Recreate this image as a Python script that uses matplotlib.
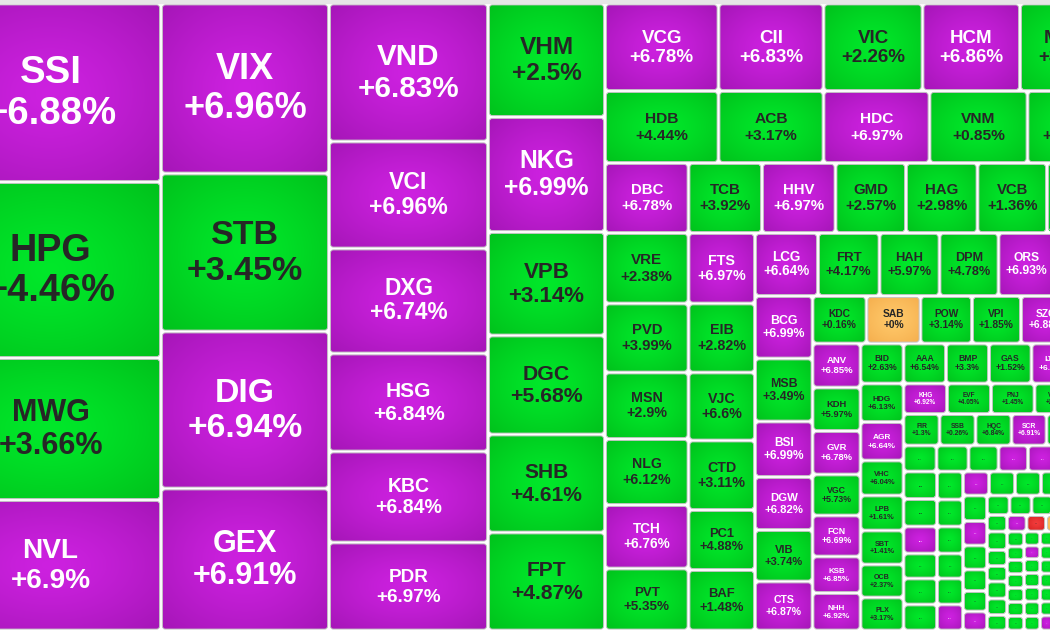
import numpy as np
import matplotlib
matplotlib.use("Agg")
import matplotlib.pyplot as plt
from matplotlib.patches import FancyBboxPatch

plt.rcParams['font.family'] = ['Liberation Sans', 'DejaVu Sans']

# ---------------- data ----------------
# layout strips of the squarified treemap (orientation + number of cells)
strip_dirs = ['col', 'col', 'col', 'col', 'row', 'row', 'row', 'col', 'col', 'row',
              'col', 'row', 'col', 'col', 'row', 'row', 'row', 'row', 'col', 'col',
              'row', 'col', 'row', 'row', 'col', 'col', 'col', 'col']
strip_counts = [4, 4, 6, 6, 5, 5, 7, 6, 6, 6, 6, 6, 7, 8, 5, 5, 6, 7, 6, 6, 6, 6, 6, 7, 6, 7, 7, 7]

D = '...'
tickers = (['SSI', 'HPG', 'MWG', 'NVL'] +
           ['VIX', 'STB', 'DIG', 'GEX'] +
           ['VND', 'VCI', 'DXG', 'HSG', 'KBC', 'PDR'] +
           ['VHM', 'NKG', 'VPB', 'DGC', 'SHB', 'FPT'] +
           ['VCG', 'CII', 'VIC', 'HCM', 'MBB'] +
           ['HDB', 'ACB', 'HDC', 'VNM', 'TPB'] +
           ['DBC', 'TCB', 'HHV', 'GMD', 'HAG', 'VCB', 'CTG'] +
           ['VRE', 'PVD', 'MSN', 'NLG', 'TCH', 'PVT'] +
           ['FTS', 'EIB', 'VJC', 'CTD', 'PC1', 'BAF'] +
           ['LCG', 'FRT', 'HAH', 'DPM', 'ORS', 'DCM'] +
           ['BCG', 'MSB', 'BSI', 'DGW', 'VIB', 'CTS'] +
           ['KDC', 'SAB', 'POW', 'VPI', 'SZC', 'PHR'] +
           ['ANV', 'KDH', 'GVR', 'VGC', 'FCN', 'KSB', 'NHH'] +
           ['BID', 'HDG', 'AGR', 'VHC', 'LPB', 'SBT', 'OCB', 'PLX'] +
           ['AAA', 'BMP', 'GAS', 'IJC', 'DXS'] +
           ['KHG', 'EVF', 'PNJ', 'VSC', 'DPG'] +
           ['FIR', 'SSB', 'HQC', 'SCR', 'CSV', 'HT1'] +
           [D] * 7 + [D] * 6 + [D] * 6 + [D] * 6 + [D] * 6 + [D] * 6 +
           [D] * 7 + [D] * 6 + [D] * 7 + [D] * 7 + [D] * 7)

N = None
changes = ([6.88, 4.46, 3.66, 6.9] +
           [6.96, 3.45, 6.94, 6.91] +
           [6.83, 6.96, 6.74, 6.84, 6.84, 6.97] +
           [2.5, 6.99, 3.14, 5.68, 4.61, 4.87] +
           [6.78, 6.83, 2.26, 6.86, 3.2] +
           [4.44, 3.17, 6.97, 0.85, 1.89] +
           [6.78, 3.92, 6.97, 2.57, 2.98, 1.36, 2.4] +
           [2.38, 3.99, 2.9, 6.12, 6.76, 5.35] +
           [6.97, 2.82, 6.6, 3.11, 4.88, 1.48] +
           [6.64, 4.17, 5.97, 4.78, 6.93, 3.5] +
           [6.99, 3.49, 6.99, 6.82, 3.74, 6.87] +
           [0.16, 0, 3.14, 1.85, 6.88, 2.1] +
           [6.85, 5.97, 6.78, 5.73, 6.69, 6.85, 6.92] +
           [2.63, 6.13, 6.64, 6.04, 1.61, 1.41, 2.37, 3.17] +
           [6.54, 3.3, 1.52, 6.9, 4.1] +
           [6.92, 4.05, 1.45, 2.2, 3.0] +
           [1.3, 0.26, 6.84, 6.91, 1.9, 1.2] +
           [N] * 7 + [N] * 6 + [N] * 6 + [N] * 6 + [N] * 6 + [N] * 6 +
           [N] * 7 + [N] * 6 + [N] * 7 + [N] * 7 + [N] * 7)

# C = ceiling, U = up, R = reference, F = down
status = ('CUUC' + 'CUCC' + 'CCCCCC' + 'UCUUUU' + 'CCUCU' + 'UUCUU' + 'CUCUUUU' +
          'UUUUCU' + 'CUUUUU' + 'CUUUCU' + 'CUCCUC' + 'URUUCU' + 'CUCUCCC' +
          'UUCUUUUU' + 'UUUCU' + 'CUUUU' + 'UUUCUU' +
          'UUUCCUU' + 'UUCUUU' + 'UUUUUC' + 'CUUUUU' + 'UCUUUC' + 'UUUUUU' +
          'UCFRUUU' + 'UUUUUU' + 'UUUUUUU' + 'UCUUUUU' + 'UUUUUUC')

sizes = ([39449, 38896, 31382, 28841] +
         [28560, 26544, 26376, 23856] +
         [21942, 17013, 16695, 15582, 14469, 13992] +
         [13280, 13455, 12110, 11583, 11466, 11466] +
         [9931, 9188, 8663, 8531, 7875] +
         [8172, 7560, 7632, 7056, 5940] +
         [5845, 5145, 5145, 4935, 5005, 4865, 4410] +
         [5887, 5762, 5553, 5511, 5302, 5177] +
         [4688, 4589, 4522, 4622, 3990, 4023] +
         [3969, 3875, 3780, 3717, 3560, 3465] +
         [3594, 3623, 3191, 3048, 2961, 2818] +
         [2565, 2565, 2446, 2328, 2375, 1853] +
         [2112, 2088, 2088, 1968, 1968, 1752, 1800] +
         [1720, 1656, 1656, 1505, 1505, 1462, 1419, 1419] +
         [1700, 1720, 1700, 1580, 1560] +
         [1327, 1342, 1327, 1235, 1068] +
         [1134, 1134, 1134, 1103, 1055, 945] +
         [858, 832, 780, 767, 767, 702, 663] +
         [921, 921, 905, 838, 871, 871] +
         [728, 702, 702, 650, 676, 676] +
         [624, 624, 624, 600, 576, 480] +
         [612, 588, 576, 516, 492, 456] +
         [439, 429, 419, 400, 371, 341] +
         [330, 322, 322, 314, 289, 264, 190] +
         [370, 320, 310, 340, 330, 310] +
         [255, 230, 238, 238, 238, 238, 247] +
         [224, 216, 224, 224, 232, 232, 232] +
         [196, 196, 196, 196, 196, 196, 210])

# ---------------- style ----------------
PALETTE = {
    'C': ((205, 33, 224), (166, 22, 184), 'white'),
    'U': ((0, 232, 42), (0, 194, 28), '#262626'),
    'R': ((255, 200, 105), (245, 175, 78), '#262626'),
    'F': ((242, 60, 60), (212, 32, 32), '#262626'),
}
GAP = 1.4

# ---------------- layout ----------------
def strip_layout(x0, y0, x1, y1):
    rects = []
    i = 0
    for d, n in zip(strip_dirs, strip_counts):
        vals = sizes[i:i + n]
        tot = float(sum(vals))
        if d == 'col':
            w = tot / (y1 - y0)
            yy = y0
            for v in vals:
                h = v / w
                rects.append((x0, yy, w, h))
                yy += h
            x0 += w
        else:
            h = tot / (x1 - x0)
            xx = x0
            for v in vals:
                ww = v / h
                rects.append((xx, y0, ww, h))
                xx += ww
            y0 += h
        i += n
    return rects

rects = strip_layout(-60, 3.5, 1110, 630.5)

fig = plt.figure(figsize=(10.5, 6.3), dpi=100)
ax = fig.add_axes([0, 0, 1, 1])
ax.set_xlim(0, 1050)
ax.set_ylim(630, 0)
ax.axis('off')
fig.patch.set_facecolor('white')
ax.axhspan(0, 2.6, color='#e6e6e6', zorder=0)

n = 40
u = np.linspace(-1, 1, n)
uu, vv = np.meshgrid(u, u)
tgrid = np.clip(np.sqrt(uu ** 2 + vv ** 2) / np.sqrt(2), 0, 1) ** 1.3

for (x, y, w, h), tk, ch, st in zip(rects, tickers, changes, status):
    if x > 1050 or y > 630:
        continue
    c0, c1, tc = PALETTE[st]
    c0 = np.array(c0) / 255.0
    c1 = np.array(c1) / 255.0
    rgb = c0[None, None, :] + (c1 - c0)[None, None, :] * tgrid[..., None]
    xa, ya, wa, ha = x + GAP, y + GAP, w - 2 * GAP, h - 2 * GAP
    rad = min(3.0, wa / 4, ha / 4)
    patch = FancyBboxPatch((xa, ya), wa, ha,
                           boxstyle=f'round,pad=0,rounding_size={rad}',
                           facecolor='none', edgecolor='#c4c4c4', lw=0.7, zorder=3)
    ax.add_patch(patch)
    im = ax.imshow(rgb, extent=(xa, xa + wa, ya + ha, ya), interpolation='bilinear',
                   aspect='auto', zorder=2)
    im.set_clip_path(patch)

    cx, cy = x + w / 2, y + h / 2
    fs = min(0.215 * min(w, h), 0.27 * w)
    pt = fs * 0.72
    if ch is None:
        ax.text(cx, cy, tk, ha='center', va='center', fontsize=pt * 0.8,
                fontweight='bold', color=tc, zorder=4)
    else:
        pct = ('+' if ch >= 0 else '') + f'{ch:g}%'
        ax.text(cx, cy - 0.25 * fs, tk, ha='center', va='baseline', fontsize=pt,
                fontweight='bold', color=tc, zorder=4)
        ax.text(cx, cy + 0.81 * fs, pct, ha='center', va='baseline', fontsize=pt,
                fontweight='bold', color=tc, zorder=4)

ax.set_xlim(0, 1050)
ax.set_ylim(630, 0)
fig.savefig('out.png', dpi=100, facecolor='white')
